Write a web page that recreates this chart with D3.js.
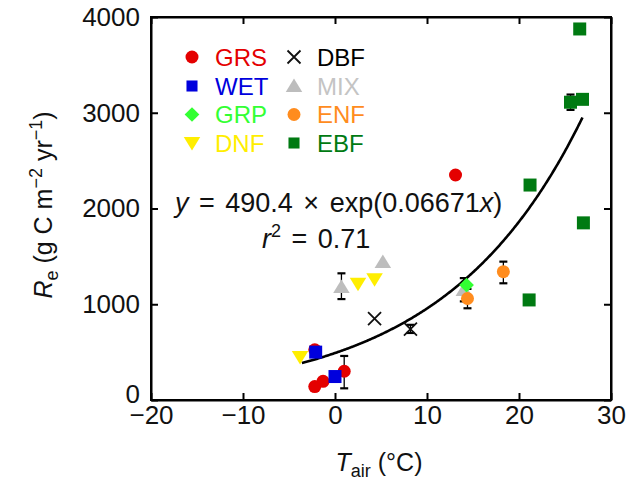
<!DOCTYPE html>
<html>
<head>
<meta charset="utf-8">
<script src="https://cdn.jsdelivr.net/npm/d3@7"></script>
<style>
  html, body { margin: 0; padding: 0; background: #fff; }
  svg text { font-family: "Liberation Sans", Arial, Helvetica, sans-serif; }
</style>
</head>
<body>
<svg id="chart" width="632" height="481"></svg>
<script>
// Ecosystem respiration (Re) against mean air temperature, by vegetation type.
// Each entry: [Tair (°C), Re (g C m-2 yr-1)]
const GRS = [[-2.2, 525], [-2.2, 140], [-1.3, 195], [1.0, 300], [13.1, 2350]];
const WET = [[-2.1, 500], [0.0, 245]];
const GRP = [[14.3, 1200]];
const DNF = [[-3.8, 450], [2.5, 1215], [4.3, 1260]];
const DBF = [[4.3, 850], [8.2, 740]];
const MIX = [[0.7, 1180], [5.2, 1440], [14.0, 1150]];
const ENF = [[14.4, 1060], [18.3, 1340]];
const EBF = [[21.2, 2245], [21.1, 1045], [26.6, 3875], [25.6, 3110], [26.9, 3140], [27.0, 1850]];

// Error bars: [Tair, lower Re, upper Re]
const errorBars = [
  [1.0, 122, 460],
  [0.7, 1054, 1323],
  [8.2, 700, 785],
  [14.0, 1030, 1273],
  [14.4, 958, 1160],
  [18.3, 1219, 1445],
  [25.6, 3030, 3190]
];

// Exponential fit Re = a * exp(b * Tair)
const fitA = 490.4;
const fitB = 0.06671;
const fitRange = [-3.6, 26.9];
const fitR2 = "0.71";

const xTicks = [-20, -10, 0, 10, 20, 30];
const yTicks = [0, 1000, 2000, 3000, 4000];

const legendOrder = ["GRS", "WET", "GRP", "DNF", "DBF", "MIX", "ENF", "EBF"];
const seriesData = { GRS, WET, GRP, DNF, DBF, MIX, ENF, EBF };

// Marker style per vegetation type
const style = {
  GRS: { shape: "circle",   color: "#e40000" },
  WET: { shape: "square",   color: "#0000dd" },
  GRP: { shape: "diamond",  color: "#33ff33" },
  DNF: { shape: "triDown",  color: "#ffee00" },
  DBF: { shape: "cross",    color: "#111111" },
  MIX: { shape: "triUp",    color: "#bdbdbd" },
  ENF: { shape: "circle",   color: "#ff8c1e" },
  EBF: { shape: "square",   color: "#007a12" }
};
const drawOrder = ["MIX", "DBF", "GRS", "WET", "GRP", "DNF", "ENF", "EBF"];

const svg = d3.select("#chart");
const plotLeft = 151, plotRight = 611, plotTop = 17, plotBottom = 400;

const x = d3.scaleLinear().domain([-20, 30]).range([plotLeft, plotRight]);
const y = d3.scaleLinear().domain([0, 4000]).range([plotBottom, plotTop]);

function markerPath(shape, s) {
  const h = s / 2;
  switch (shape) {
    case "circle":
      return `M${-h},0A${h},${h} 0 1,1 ${h},0A${h},${h} 0 1,1 ${-h},0Z`;
    case "square":
      return `M${-h},${-h}H${h}V${h}H${-h}Z`;
    case "diamond":
      return `M0,${-h * 1.05}L${h * 1.05},0L0,${h * 1.05}L${-h * 1.05},0Z`;
    case "triUp":
      return `M0,${-h}L${h * 1.1},${h * 0.8}L${-h * 1.1},${h * 0.8}Z`;
    case "triDown":
      return `M0,${h}L${h * 1.1},${-h * 0.8}L${-h * 1.1},${-h * 0.8}Z`;
    case "cross":
      return `M${-h},${-h}L${h},${h}M${h},${-h}L${-h},${h}`;
  }
}
const markerSize = { circle: 13, square: 13, diamond: 14, triUp: 15, triDown: 15, cross: 13 };

function drawMarker(g, key, cx, cy, sizeScale) {
  const st = style[key];
  const s = markerSize[st.shape] * (sizeScale || 1);
  const p = g.append("path")
    .attr("transform", `translate(${cx},${cy})`)
    .attr("d", markerPath(st.shape, s));
  if (st.shape === "cross") {
    p.attr("fill", "none").attr("stroke", st.color).attr("stroke-width", 1.8);
  } else {
    p.attr("fill", st.color).attr("stroke", "none");
  }
}

// Axes: ticks point inward on all four sides
const axisStroke = 2;
const fontTick = 26;

const gBottom = svg.append("g").attr("transform", `translate(0,${plotBottom})`)
  .call(d3.axisBottom(x).tickValues(xTicks).tickSize(-7).tickSizeOuter(0).tickPadding(6));
const gTop = svg.append("g").attr("transform", `translate(0,${plotTop})`)
  .call(d3.axisTop(x).tickValues(xTicks).tickSize(-7).tickSizeOuter(0).tickFormat(""));
const gLeft = svg.append("g").attr("transform", `translate(${plotLeft},0)`)
  .call(d3.axisLeft(y).tickValues(yTicks).tickFormat(d3.format("d")).tickSize(-7).tickSizeOuter(0).tickPadding(11));
const gRight = svg.append("g").attr("transform", `translate(${plotRight},0)`)
  .call(d3.axisRight(y).tickValues(yTicks).tickSize(-7).tickSizeOuter(0).tickFormat(""));

[gBottom, gTop, gLeft, gRight].forEach(g => {
  g.select(".domain").attr("stroke", "#000").attr("stroke-width", axisStroke);
  g.selectAll(".tick line").attr("stroke", "#000").attr("stroke-width", axisStroke);
  g.selectAll(".tick text").attr("fill", "#111").attr("font-size", fontTick)
    .attr("font-family", "'Liberation Sans', Arial, Helvetica, sans-serif");
});
// The zero label sits a little above the corner, clear of the x labels
gLeft.selectAll(".tick").filter(d => d === 0).select("text").attr("dy", "0.1em");

// Close the frame corners cleanly
svg.append("rect")
  .attr("x", plotLeft).attr("y", plotTop)
  .attr("width", plotRight - plotLeft).attr("height", plotBottom - plotTop)
  .attr("fill", "none").attr("stroke", "#000").attr("stroke-width", axisStroke);

// Fitted exponential curve
const fitPts = d3.range(fitRange[0], fitRange[1] + 0.001, 0.1).map(t => [t, fitA * Math.exp(fitB * t)]);
svg.append("path")
  .datum(fitPts)
  .attr("fill", "none")
  .attr("stroke", "#000")
  .attr("stroke-width", 2.6)
  .attr("d", d3.line().x(d => x(d[0])).y(d => y(d[1])));

// Error bars
const gErr = svg.append("g").attr("stroke", "#000");
errorBars.forEach(([t, lo, hi]) => {
  const cx = x(t);
  gErr.append("line").attr("x1", cx).attr("x2", cx).attr("y1", y(lo)).attr("y2", y(hi)).attr("stroke-width", 1.3);
  [lo, hi].forEach(v => {
    gErr.append("line").attr("x1", cx - 4).attr("x2", cx + 4).attr("y1", y(v)).attr("y2", y(v)).attr("stroke-width", 2.2);
  });
});

// Data points
const gPts = svg.append("g");
drawOrder.forEach(key => {
  seriesData[key].forEach(([t, v]) => drawMarker(gPts, key, x(t), y(v)));
});

// Legend in two columns
const legendCols = [{ mx: 192, tx: 215 }, { mx: 294, tx: 317 }];
const legendRows = [57, 86, 114.5, 143];
const legendText = { MIX: "#c4c4c4", DBF: "#000" };
legendOrder.forEach((key, i) => {
  const col = legendCols[Math.floor(i / 4)];
  const ry = legendRows[i % 4];
  drawMarker(svg, key, col.mx, ry, key === "WET" || key === "EBF" ? 0.85 : 1);
  svg.append("text")
    .attr("x", col.tx).attr("y", ry)
    .attr("dy", "0.36em")
    .attr("font-size", 24)
    .attr("fill", legendText[key] || style[key].color)
    .text(key);
});

// Fit equation
const eqFont = 27;
const eq = svg.append("text").attr("x", 175).attr("y", 212).attr("font-size", eqFont).attr("fill", "#111");
eq.append("tspan").attr("font-style", "italic").text("y");
eq.append("tspan").attr("dx", 3).text("=");
eq.append("tspan").attr("dx", 3).text(`${fitA}`);
eq.append("tspan").attr("dx", 3).text("\u00d7");
eq.append("tspan").attr("dx", 3).text(`exp(${fitB}`);
eq.append("tspan").attr("font-style", "italic").text("x");
eq.append("tspan").text(")");
// insert the normal word gaps between the pieces
eq.selectAll("tspan").each(function (d, i) {
  if (i >= 1 && i <= 4) d3.select(this).text(" " + d3.select(this).text());
});

const r2 = svg.append("text").attr("x", 262).attr("y", 248).attr("font-size", eqFont).attr("fill", "#111");
r2.append("tspan").attr("font-style", "italic").text("r");
r2.append("tspan").attr("font-size", 18).attr("dy", -11).text("2");
r2.append("tspan").attr("dy", 11).attr("dx", 3).text(" =");
r2.append("tspan").attr("dx", 3).text(` ${fitR2}`);

// Axis titles
const xt = svg.append("text").attr("x", 379).attr("y", 471).attr("text-anchor", "middle").attr("font-size", 25).attr("fill", "#111");
xt.append("tspan").attr("font-style", "italic").text("T");
xt.append("tspan").attr("font-size", 18).attr("dy", 6).text("air");
xt.append("tspan").attr("dy", -6).text(" (\u00b0C)");

const yt = svg.append("text")
  .attr("transform", `translate(52,205) rotate(-90)`)
  .attr("text-anchor", "middle").attr("font-size", 25).attr("fill", "#111");
yt.append("tspan").attr("font-style", "italic").text("R");
yt.append("tspan").attr("font-size", 18).attr("dy", 6).text("e");
yt.append("tspan").attr("dy", -6).text(" (g C m");
yt.append("tspan").attr("font-size", 18).attr("dy", -10).text("\u22122");
yt.append("tspan").attr("dy", 10).text(" yr");
yt.append("tspan").attr("font-size", 18).attr("dy", -10).text("\u22121");
yt.append("tspan").attr("dy", 10).text(")");
</script>
</body>
</html>
